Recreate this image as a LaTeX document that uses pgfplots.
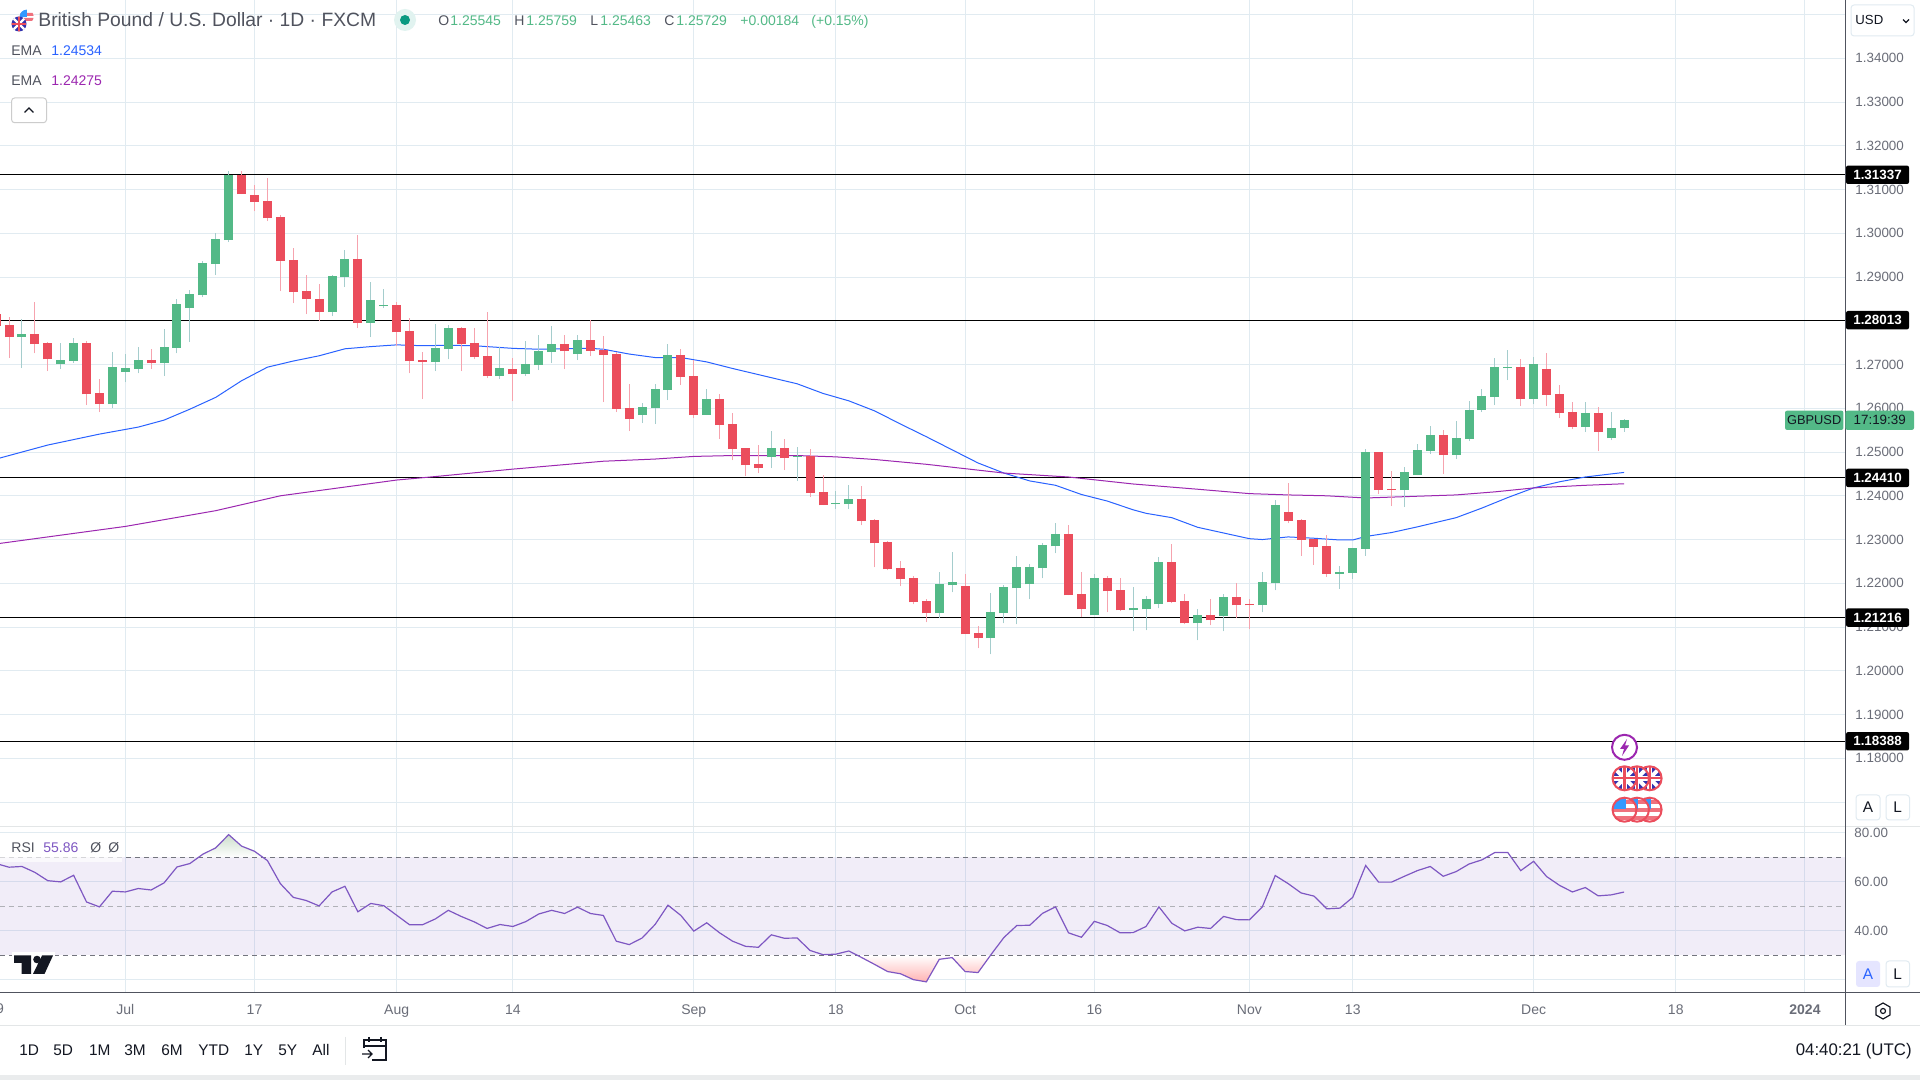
\documentclass[border=0pt]{standalone}
\usepackage{pgfplots}
\usepackage{pgfplotstable}
\pgfplotsset{compat=1.18}
\usepackage{fontspec}
\setmainfont{Liberation Sans}
\definecolor{upc}{HTML}{53B987}
\definecolor{dnc}{HTML}{EB4D5C}
\definecolor{upw}{HTML}{A5CDCD}
\definecolor{dnw}{HTML}{F6A3AE}
\definecolor{gridc}{HTML}{E1EBF1}
\definecolor{axc}{HTML}{50535E}
\definecolor{lab}{HTML}{6A6D78}
\definecolor{txt}{HTML}{131722}
\definecolor{emab}{HTML}{2962FF}
\definecolor{emap}{HTML}{9C27B0}
\definecolor{rsic}{HTML}{7E57C2}
\definecolor{dot}{HTML}{089981}
\pgfplotstableread{
i O H L C
-8 1.27624 1.28036 1.26916 1.27693
-5 1.27007 1.27487 1.26893 1.27098
-4 1.27076 1.27601 1.27030 1.27487
-1 1.26093 1.27281 1.26001 1.26938
0 1.26824 1.27236 1.26595 1.26916
1 1.26893 1.27396 1.26801 1.27098
3 1.27030 1.27807 1.26733 1.27396
4 1.27373 1.28493 1.27258 1.28379
5 1.28287 1.28699 1.27510 1.28607
6 1.28584 1.29362 1.28539 1.29316
7 1.29293 1.30002 1.29041 1.29864
8 1.29842 1.31419 1.29796 1.31337
16 1.28196 1.29041 1.28104 1.29019
17 1.28996 1.29613 1.28767 1.29407
19 1.27944 1.28881 1.27624 1.28470
20 1.28333 1.28721 1.28287 1.28356
24 1.27053 1.27921 1.26847 1.27373
25 1.27350 1.27898 1.27121 1.27830
29 1.26733 1.27396 1.26665 1.26916
31 1.26779 1.27534 1.26733 1.27008
32 1.26985 1.27671 1.26871 1.27305
33 1.27282 1.27876 1.27031 1.27465
35 1.27236 1.27671 1.27099 1.27556
40 1.25842 1.26116 1.25659 1.26025
41 1.26002 1.26551 1.25636 1.26436
42 1.26413 1.27465 1.26185 1.27213
45 1.25842 1.26436 1.25842 1.26208
50 1.24882 1.25476 1.24630 1.25088
52 1.24889 1.25110 1.24333 1.24912
55 1.23807 1.24105 1.23693 1.23830
56 1.23807 1.24242 1.23693 1.23922
63 1.21310 1.22248 1.21196 1.21973
64 1.21950 1.22705 1.21790 1.22019
67 1.20739 1.21768 1.20373 1.21333
68 1.21310 1.21950 1.21082 1.21905
69 1.21882 1.22613 1.21059 1.22362
70 1.21973 1.22431 1.21630 1.22362
71 1.22339 1.22911 1.22111 1.22865
72 1.22842 1.23368 1.22682 1.23116
75 1.21265 1.22202 1.21265 1.22111
78 1.21379 1.21905 1.20899 1.21425
79 1.21402 1.21699 1.20922 1.21630
80 1.21516 1.22591 1.21425 1.22476
83 1.21082 1.21402 1.20693 1.21265
85 1.21242 1.21745 1.20899 1.21676
88 1.21493 1.22248 1.21333 1.22019
89 1.21996 1.23894 1.21836 1.23779
94 1.22214 1.22396 1.21871 1.22259
95 1.22237 1.22807 1.22100 1.22807
96 1.22785 1.25068 1.22625 1.24999
99 1.24131 1.24657 1.23743 1.24542
100 1.24474 1.25182 1.24474 1.25045
101 1.25022 1.25593 1.24953 1.25387
103 1.24931 1.25707 1.24839 1.25319
104 1.25296 1.26163 1.25250 1.25958
105 1.25958 1.26437 1.25912 1.26278
106 1.26255 1.27145 1.26072 1.26940
107 1.26917 1.27328 1.26643 1.26940
109 1.26209 1.27168 1.26095 1.27008
113 1.25570 1.26141 1.25456 1.25889
115 1.25319 1.25912 1.25273 1.25547
116 1.25545 1.25759 1.25463 1.25729
}\upT
\pgfplotstableread{
i O H L C
-10 1.28165 1.28241 1.27860 1.27883
-9 1.27898 1.28081 1.27152 1.27624
-7 1.27693 1.28424 1.27258 1.27464
-6 1.27487 1.27510 1.26847 1.27121
-3 1.27487 1.27533 1.26070 1.26321
-2 1.26344 1.26664 1.25910 1.26093
2 1.27098 1.27350 1.26893 1.27030
9 1.31337 1.31419 1.30893 1.30893
10 1.30870 1.31099 1.30505 1.30710
11 1.30733 1.31259 1.30276 1.30345
12 1.30367 1.30413 1.28676 1.29362
13 1.29384 1.29659 1.28401 1.28653
14 1.28676 1.29041 1.28150 1.28493
15 1.28493 1.28836 1.27990 1.28196
18 1.29407 1.29956 1.27830 1.27944
21 1.28356 1.28424 1.27418 1.27738
22 1.27761 1.28059 1.26801 1.27076
23 1.27098 1.27281 1.26207 1.27053
26 1.27830 1.27853 1.26847 1.27464
27 1.27487 1.27830 1.27121 1.27167
28 1.27191 1.28196 1.26688 1.26733
30 1.26893 1.27145 1.26162 1.26779
34 1.27465 1.27671 1.26893 1.27305
36 1.27556 1.28014 1.27191 1.27305
37 1.27335 1.27648 1.26139 1.27213
38 1.27236 1.27282 1.25910 1.25979
39 1.26002 1.26551 1.25476 1.25750
43 1.27213 1.27351 1.26528 1.26711
44 1.26733 1.27099 1.25773 1.25842
46 1.26208 1.26322 1.25293 1.25613
47 1.25636 1.25888 1.24813 1.25065
48 1.25088 1.25088 1.24447 1.24699
49 1.24722 1.25156 1.24516 1.24630
51 1.25088 1.25293 1.24585 1.24859
53 1.24905 1.25065 1.23967 1.24059
54 1.24082 1.24470 1.23784 1.23784
57 1.23916 1.24214 1.23322 1.23414
58 1.23436 1.23459 1.22362 1.22911
59 1.22933 1.22956 1.22293 1.22316
60 1.22339 1.22499 1.21928 1.22088
61 1.22111 1.22156 1.21516 1.21562
62 1.21585 1.21630 1.21105 1.21310
65 1.21928 1.22202 1.20830 1.20830
66 1.20853 1.21013 1.20510 1.20739
73 1.23116 1.23322 1.21722 1.21722
74 1.21745 1.22248 1.21219 1.21402
76 1.22111 1.22156 1.21333 1.21813
77 1.21836 1.22111 1.21356 1.21379
81 1.22476 1.22888 1.21539 1.21562
82 1.21585 1.21745 1.21059 1.21082
84 1.21265 1.21630 1.21036 1.21150
86 1.21676 1.21996 1.21196 1.21493
87 1.21516 1.21630 1.20945 1.21493
90 1.23629 1.24291 1.23378 1.23424
91 1.23447 1.23469 1.22625 1.22990
92 1.23013 1.23013 1.22419 1.22830
93 1.22853 1.23104 1.22145 1.22214
97 1.24999 1.24999 1.24040 1.24131
98 1.24154 1.24565 1.23766 1.24131
102 1.25387 1.25501 1.24497 1.24931
108 1.26940 1.27122 1.26049 1.26209
110 1.26894 1.27259 1.26049 1.26300
111 1.26323 1.26529 1.25775 1.25889
112 1.25912 1.26141 1.25524 1.25570
114 1.25889 1.26026 1.25022 1.25456
}\dnT
\pgfplotstableread{
i p
-10 1.2484
-6 1.2516
-2 1.2541
1 1.2557
3 1.2573
5 1.2598
7 1.2625
9 1.2663
11 1.2694
13 1.2708
15 1.2720
17 1.2736
19 1.2741
21 1.2745
23 1.2743
25 1.2744
27 1.2743
30 1.2737
32 1.2735
36 1.2737
37 1.2735
39 1.2724
41 1.2716
43 1.2716
45 1.2706
47 1.2691
49 1.2677
52 1.2656
54 1.2634
56 1.2617
58 1.2594
60 1.2564
62 1.2535
64 1.2505
66 1.2475
68 1.2452
70 1.2434
72 1.2424
74 1.2403
76 1.2388
78 1.2368
79 1.2360
81 1.2350
83 1.2328
85 1.2315
87 1.2302
88 1.2300
90 1.2306
92 1.2303
94 1.2299
95 1.2299
96 1.2307
98 1.2316
100 1.2329
102 1.2343
103 1.2350
105 1.2372
107 1.2396
109 1.2418
111 1.2432
113 1.2443
115 1.2450
116 1.24534
}\emaA
\pgfplotstableread{
i p
-10 1.2290
-5 1.2310
0 1.2330
7 1.2366
12 1.2400
21 1.2436
24 1.2444
30 1.2461
37 1.2479
41 1.2484
44 1.2490
47 1.2492
52 1.2492
55 1.2489
58 1.2483
62 1.2472
65 1.2462
68 1.2452
73 1.2443
78 1.2427
83 1.2415
87 1.2405
90 1.2402
93 1.2400
96 1.2395
99 1.2398
103 1.2402
106 1.2409
109 1.2418
113 1.2424
116 1.24275
}\emaB
\pgfplotstableread{
i v
-10 67.5
-9 66.0
-8 66.3
-7 63.9
-6 60.5
-5 60.0
-4 62.7
-3 51.8
-2 49.8
-1 56.2
0 55.9
1 57.3
2 56.7
3 59.6
4 66.1
5 67.5
6 71.3
7 73.9
8 79.3
9 74.6
10 72.5
11 68.7
12 59.3
13 53.7
14 52.4
15 50.2
16 55.9
17 58.2
18 47.8
19 51.2
20 50.3
21 46.4
22 42.5
23 42.5
24 44.9
25 48.4
26 45.9
27 43.7
28 41.0
29 42.6
30 41.8
31 43.8
32 46.9
33 48.4
34 47.1
35 49.7
36 47.1
37 46.3
38 35.8
39 34.4
40 37.1
41 42.6
42 50.5
43 46.3
44 39.9
45 43.3
46 39.2
47 35.8
48 33.7
49 33.3
50 38.4
51 37.0
52 37.1
53 32.0
54 30.3
55 30.5
56 31.8
57 29.1
58 26.3
59 23.4
60 22.5
61 20.1
62 19.2
63 28.4
64 29.1
65 23.4
66 23.0
67 30.3
68 37.3
69 42.2
70 42.3
71 47.2
72 49.8
73 39.2
74 37.4
75 43.9
76 42.2
77 39.2
78 39.3
79 41.8
80 49.8
81 43.1
82 40.0
83 41.5
84 41.0
85 45.9
86 44.6
87 44.5
88 49.8
89 62.6
90 59.3
91 55.5
92 54.2
93 49.0
94 49.3
95 53.7
96 66.7
97 59.9
98 59.9
99 62.3
100 64.6
101 66.3
102 62.3
103 64.2
104 67.3
105 69.0
106 72.0
107 72.0
108 64.6
109 68.4
110 62.2
111 58.6
112 55.9
113 57.7
114 54.3
115 54.7
116 55.86
}\rsiT
\newcommand{\lw}{0.5pt}
\tikzset{
 lbl/.style={font=\fontsize{7}{8}\selectfont,text=lab,inner sep=0pt},
 pricebox/.style={fill=black,text=white,font=\fontsize{6.7}{8}\selectfont\bfseries,minimum width=31.5pt,minimum height=9.2pt,inner sep=0pt,rounded corners=1pt},
 btn/.style={draw=gridc,line width=\lw,rounded corners=1.5pt,fill=white},
 tf/.style={font=\fontsize{7.7}{8}\selectfont,text=txt,inner sep=0pt},
 hd/.style={anchor=base west,inner sep=0pt,font=\fontsize{7}{8}\selectfont},
}
\newcommand{\ukflag}[2]{%
 \begin{scope}
 \clip (#1,#2) circle (12);
 \fill[blue!60!black!80] (#1-12,#2-12) rectangle (#1+12,#2+12);
 \draw[white,line width=2pt] (#1-12,#2-12)--(#1+12,#2+12) (#1-12,#2+12)--(#1+12,#2-12);
 \draw[white,line width=2.4pt] (#1-12,#2)--(#1+12,#2) (#1,#2-12)--(#1,#2+12);
 \draw[dnc,line width=1.1pt] (#1-12,#2)--(#1+12,#2) (#1,#2-12)--(#1,#2+12);
 \end{scope}
 \draw[dnc,line width=1pt,fill=none] (#1,#2) circle (12);
}
\newcommand{\usflag}[2]{%
 \begin{scope}
 \clip (#1,#2) circle (12);
 \fill[white] (#1-12,#2-12) rectangle (#1+12,#2+12);
 \fill[dnc!80] (#1-12,#2-2) rectangle (#1+12,#2+2);
 \fill[dnc!80] (#1-12,#2+6) rectangle (#1+12,#2+10);
 \fill[dnc!80] (#1+1,#2-10) rectangle (#1+12,#2-6);
 \fill[blue!50!cyan!80] (#1-12,#2-12) rectangle (#1+1,#2-1);
 \end{scope}
 \draw[dnc,line width=1pt,fill=none] (#1,#2) circle (12);
}
\begin{document}
\begin{tikzpicture}
\path[use as bounding box,fill=white] (0pt,0pt) rectangle (960pt,540pt);
% main pane
\begin{axis}[
 at={(0pt,540pt)},anchor=north west,scale only axis,
 width=922.5pt,height=413.35pt,
 xmin=-9.698,xmax=133.1,ymin=1.16437,ymax=1.353326,
 axis line style={draw=none},tick style={draw=none},
 xtick={0,10,21,30,44,55,65,75,87,95,109,120,130},xticklabels={},
 ytick={1.17,1.18,1.19,1.20,1.21,1.22,1.23,1.24,1.25,1.26,1.27,1.28,1.29,1.30,1.31,1.32,1.33,1.34,1.35},
 yticklabels={,1.18000,1.19000,1.20000,1.21000,1.22000,1.23000,1.24000,1.25000,1.26000,1.27000,1.28000,1.29000,1.30000,1.31000,1.32000,1.33000,1.34000,},
 yticklabel pos=right,
 yticklabel style={font=\fontsize{6.7}{8}\selectfont,text=lab,anchor=west,inner sep=0pt,xshift=5pt},
 grid=major,grid style={gridc,line width=\lw},
]
\pgfplotsinvokeforeach{1.31337,1.28013,1.24410,1.21216,1.18388}{
 \addplot[black,line width=\lw,forget plot] coordinates {(-9.698,#1)(133.1,#1)};
}
\addplot[emab,line width=\lw] table[x=i,y=p] {\emaA};
\addplot[emap,line width=\lw] table[x=i,y=p] {\emaB};
\addplot[draw=none,mark=none,error bars/.cd,y dir=plus,y explicit,error mark=none,error bar style={upw,line width=\lw}] table[x=i,y=L,y error plus expr=\thisrow{H}-\thisrow{L}] {\upT};
\addplot[draw=none,mark=none,error bars/.cd,y dir=plus,y explicit,error mark=none,error bar style={dnw,line width=\lw}] table[x=i,y=L,y error plus expr=\thisrow{H}-\thisrow{L}] {\dnT};
\addplot[draw=none,mark=none,error bars/.cd,y dir=plus,y explicit,error mark=none,error bar style={upc,line width=4.5pt}] table[x=i,y=O,y error plus expr=\thisrow{C}-\thisrow{O}] {\upT};
\addplot[draw=none,mark=none,error bars/.cd,y dir=plus,y explicit,error mark=none,error bar style={dnc,line width=4.5pt}] table[x=i,y=C,y error plus expr=\thisrow{O}-\thisrow{C}] {\dnT};
\end{axis}
% RSI pane
\begin{axis}[
 at={(0pt,126.85pt)},anchor=north west,scale only axis,
 width=922.5pt,height=82.8pt,
 xmin=-9.698,xmax=133.1,ymin=15.1,ymax=82.7,
 axis line style={draw=none},tick style={draw=none},
 xtick={0,10,21,30,44,55,65,75,87,95,109,120,130},
 xticklabels={Jul,17,Aug,14,Sep,18,Oct,16,Nov,13,Dec,18,\textbf{2024}},
 xticklabel style={font=\fontsize{7}{8}\selectfont,text=lab,inner sep=0pt,anchor=base,yshift=-11.5pt},
 ytick={20,40,60,80},yticklabels={,40.00,60.00,80.00},
 yticklabel pos=right,
 yticklabel style={font=\fontsize{6.7}{8}\selectfont,text=lab,anchor=west,inner sep=0pt,xshift=4.5pt},
 grid=major,grid style={gridc,line width=\lw},
]
\addplot[draw=none,fill=rsic,fill opacity=0.1] coordinates {(-9.698,30)(133.1,30)(133.1,70)(-9.698,70)} --cycle;
\addplot[draw=none,top color=white,bottom color=red!30] coordinates {(56.67,30)(57,29.1)(58,26.3)(59,23.4)(60,22.5)(61,20.1)(62,19.2)(63,28.4)(64,29.1)(65,23.4)(66,23.0)(66.96,30)} --cycle;
\addplot[draw=none,bottom color=white,top color=green!35!black!20] coordinates {(5.66,70)(6,71.3)(7,73.9)(8,79.3)(9,74.6)(10,72.5)(10.66,70)} --cycle;
\addplot[axc!80,line width=\lw,dash pattern=on 2.5pt off 2pt] coordinates {(-9.698,70)(133.1,70)};
\addplot[axc!45,line width=\lw,dash pattern=on 2.5pt off 2pt] coordinates {(-9.698,50)(133.1,50)};
\addplot[axc!80,line width=\lw,dash pattern=on 2.5pt off 2pt] coordinates {(-9.698,30)(133.1,30)};
\addplot[rsic,line width=0.6pt] table[x=i,y=v] {\rsiT};
\end{axis}
% chrome, in pixels of the reference
\begin{scope}[shift={(0pt,540pt)},x=0.5pt,y=-0.5pt]
 \draw[gridc!60!gray!40,line width=\lw] (0,826.7)--(1920,826.7);
 \draw[axc,line width=\lw] (0,992.3)--(1920,992.3);
 \draw[axc,line width=\lw] (1845.5,0)--(1845.5,1026);
 \draw[gridc!60!gray!40,line width=\lw] (0,1026)--(1920,1026);
 \fill[gridc!60!gray!30] (0,1075)rectangle(1920,1080);
 % price boxes
 \foreach \y/\t in {174.8/1.31337,320.2/1.28013,477.9/1.24410,617.6/1.21216,741.3/1.18388}
  \node[pricebox] at (1877.5,\y) {\t};
 % current price
 \node[fill=upc,text=txt,font=\fontsize{6.4}{8}\selectfont,minimum width=29.2pt,minimum height=9.6pt,inner sep=0pt,rounded corners=1pt] at (1814.2,420.3) {GBPUSD};
 \node[fill=upc,text=txt,font=\fontsize{6.7}{8}\selectfont,minimum width=34.3pt,minimum height=9.6pt,inner sep=0pt,rounded corners=1pt] at (1879.7,420.3) {17:19:39};
 % USD
 \draw[btn] (1851,5) rectangle (1914,36);
 \node[tf,anchor=west,font=\fontsize{6.6}{8}\selectfont] at (1855,20) {USD};
 \draw[txt,line width=0.6pt] (1903,19.5)--(1906,22.5)--(1909,19.5);
 % A L
 \draw[btn] (1856,795) rectangle (1880,820); \node[tf] at (1868,807.5) {A};
 \draw[btn] (1886,795) rectangle (1909.5,820); \node[tf] at (1897.7,807.5) {L};
 \fill[blue!10,rounded corners=1.5pt] (1856,961) rectangle (1880,987); \node[tf,text=emab] at (1868,974) {A};
 \draw[btn] (1886,961) rectangle (1909.5,987); \node[tf] at (1897.7,974) {L};
 % gear
 \draw[txt,line width=0.6pt] (1883,1003)--(1890,1007)--(1890,1015)--(1883,1019)--(1876,1015)--(1876,1007)--cycle;
 \draw[txt,line width=0.6pt] (1883,1011) circle (2.5);
 % header
 \begin{scope}
  \clip (26.7,16.7) circle (7);
  \fill[white] (19,9) rectangle (35,25);
  \fill[dnc!80] (19,13)rectangle(35,16) (19,18)rectangle(35,21);
  \fill[blue!50!cyan!80] (19,9) rectangle (27,17);
 \end{scope}
 \begin{scope}
  \clip (19,24) circle (7.5);
  \fill[blue!60!black!80] (10,15) rectangle (28,33);
  \draw[white,line width=1.2pt] (12,17)--(26,31) (12,31)--(26,17);
  \draw[white,line width=1.4pt] (11,24)--(27,24) (19,16)--(19,32);
  \draw[dnc,line width=0.7pt] (11,24)--(27,24) (19,16)--(19,32);
 \end{scope}
 \node[hd,font=\fontsize{9.65}{10}\selectfont,text=axc] at (38,27) {British Pound / U.S. Dollar · 1D · FXCM};
 \fill[dot!12] (405,20) circle (11);
 \fill[dot] (405,20) circle (5);
 \foreach \x/\t in {438/O,514/H,590/L,664/C}
  \node[hd,text=axc] at (\x,25.5) {\t};
 \foreach \x/\t in {450/1.25545,526/1.25759,600/1.25463,676/1.25729,740/+0.00184,811/(+0.15\%)}
  \node[hd,text=upc] at (\x,25.5) {\t};
 \node[hd,text=axc] at (11,56) {EMA};
 \node[hd,text=emab] at (51,56) {1.24534};
 \node[hd,text=axc] at (11,86) {EMA};
 \node[hd,text=emap] at (51,86) {1.24275};
 \draw[btn,draw=gray!40] (11.6,98) rectangle (46.5,122.7);
 \draw[txt,line width=0.6pt] (24.5,112.5)--(29,108)--(33.5,112.5);
 % RSI legend
 \fill[white,opacity=0.7] (0,836) rectangle (122,862);
 \node[hd,text=axc] at (11,853) {RSI};
 \node[hd,text=rsic] at (43,853) {55.86};
 \node[hd,text=axc] at (90,853) {Ø};
 \node[hd,text=axc] at (108,853) {Ø};
 % logo
 \fill[white] (12,952) rectangle (55,960);
 \fill[txt] (14,955.5)--(31,955.5)--(31,974)--(21.5,974)--(21.5,963)--(14,963)--cycle;
 \fill[txt] (37,959.5) circle (3.8);
 \fill[txt] (42,955.5)--(53,955.5)--(44.5,974)--(33,974)--cycle;
 % 19 at the left
 \node[lbl,anchor=base] at (-3.9,1014) {19};
 % bottom bar
 \foreach \x/\t in {19/1D,53/5D,88.6/1M,124/3M,161/6M,198/YTD,244/1Y,278/5Y,312/All}
  \node[tf,anchor=base west] at (\x,1055.5) {\t};
 \draw[gridc!60!gray!40,line width=\lw] (345,1037)--(345,1065);
 \draw[txt,line width=0.6pt] (364,1048)--(364,1040)--(386,1040)--(386,1060)--(372,1060);
 \draw[txt,line width=0.6pt] (364,1046)--(386,1046) (369,1037)--(369,1042) (381,1037)--(381,1042);
 \draw[txt,line width=0.6pt] (362,1054)--(372,1054) (368,1050)--(372,1054)--(368,1058);
 \node[anchor=base east,inner sep=0pt,font=\fontsize{8.4}{9}\selectfont,text=txt] at (1912,1056) {04:40:21 (UTC)};
 % events
 \foreach \x in {1649.6,1637,1624.5} {\ukflag{\x}{778.3}}
 \foreach \x in {1649.6,1637,1624.5} {\usflag{\x}{809.7}}
 \draw[emap,fill=white,line width=1pt] (1624.5,747.3) circle (12.5);
 \fill[emap] (1627,739)--(1620,749)--(1624,749)--(1622,756)--(1629,745.5)--(1625,745.5)--cycle;
\end{scope}
\end{tikzpicture}
\end{document}
